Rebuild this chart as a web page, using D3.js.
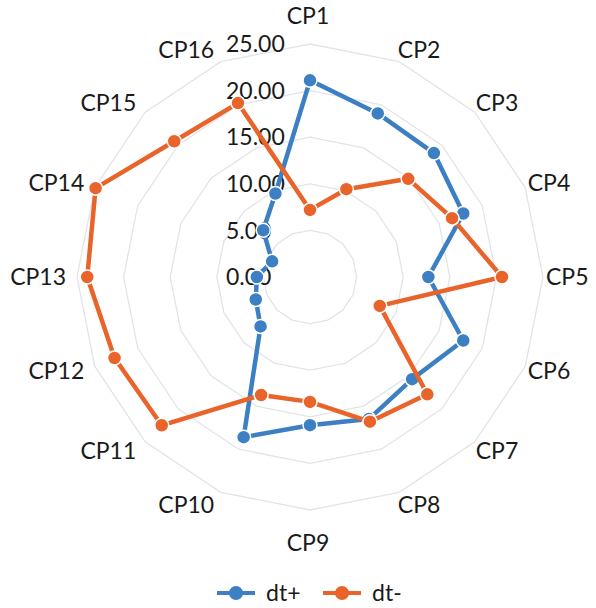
<!DOCTYPE html>
<html lang="en">
	<head>
		<meta charset="utf-8">
		<title>Radar chart</title>
		<script src="https://d3js.org/d3.v7.min.js"></script>
		<style type="text/css">
			body { margin: 0; background: #fff; }
			text { font-family: Lato, "Open Sans", sans-serif; fill: #1a1a1a; }
		</style>
	</head>
	<body>
<div id="chart"></div>
		<script type="text/javascript">
// data
var categories = ["CP1","CP2","CP3","CP4","CP5","CP6","CP7","CP8","CP9","CP10","CP11","CP12","CP13","CP14","CP15","CP16"];
var dtPlus  = [21.1, 19.0, 18.8, 17.8, 12.7, 17.8, 15.5, 16.5, 15.9, 18.6, 7.5, 6.3, 5.7, 4.4, 7.1, 9.7];
var dtMinus = [7.2, 10.2, 14.9, 16.5, 20.6, 8.1, 17.8, 16.8, 13.4, 13.7, 22.5, 22.7, 23.9, 24.9, 20.6, 20.2];
var ticks = [0, 5, 10, 15, 20, 25];
var seriesNames = ["dt+", "dt-"];
var colors = ["#3d7fc3", "#e9642a"];

//Width and height
var w = 596;
var h = 608;
var cx = 310, cy = 277;
var R = 233;

var rScale = d3.scaleLinear().domain([0, 25]).range([0, R]);
var angle = d3.scalePoint().domain(categories).range([0, 2 * Math.PI * (1 - 1 / categories.length)]);

var svg = d3.select("#chart").append("svg")
	.attr("width", w)
	.attr("height", h);

var g = svg.append("g").attr("transform", "translate(" + cx + "," + cy + ")");

// grid rings (polygons)
ticks.slice(1).forEach(function(t) {
	var pts = categories.map(c => [Math.sin(angle(c)) * rScale(t), -Math.cos(angle(c)) * rScale(t)]);
	g.append("path")
		.attr("d", d3.line().curve(d3.curveLinearClosed)(pts))
		.attr("fill", "none")
		.attr("stroke", "#e2e4e8")
		.attr("stroke-width", 1.3);
});

// tick labels
g.selectAll("text.tick")
	.data(ticks)
	.enter()
	.append("text")
	.attr("class", "tick")
	.attr("x", -84)
	.attr("y", d => -rScale(d))
	.attr("dy", "0.36em")
	.attr("font-size", 23)
	.text(d => d3.format(".2f")(d));

// category labels, placed outside the outer ring like excel does
g.selectAll("text.cat")
	.data(categories)
	.enter()
	.append("text")
	.attr("class", "cat")
	.attr("font-size", 23)
	.attr("text-anchor", "middle")
	.attr("dy", "0.36em")
	.text(d => d)
	.each(function(d) {
		var a = angle(d);
		var s = Math.sin(a), c = Math.cos(a);
		var tw = this.getComputedTextLength();
		var x, y;
		if (Math.abs(s) < 0.01) {
			x = -2;
			y = -c * 263.5 + 2.5;
		} else {
			x = s * 240 + Math.sign(s) * tw / 2 - 4;
			y = -c * 246;
		}
		d3.select(this).attr("x", x).attr("y", y);
	});

// series
var line = d3.lineRadial()
	.angle((d, i) => angle(categories[i]))
	.radius(d => rScale(d))
	.curve(d3.curveLinearClosed);

[dtPlus, dtMinus].forEach(function(values, si) {
	g.append("path")
		.attr("d", line(values))
		.attr("fill", "none")
		.attr("stroke", colors[si])
		.attr("stroke-width", 4.5)
		.attr("stroke-linejoin", "round");
	g.selectAll("circle.s" + si)
		.data(values)
		.enter()
		.append("circle")
		.attr("class", "s" + si)
		.attr("cx", (d, i) => Math.sin(angle(categories[i])) * rScale(d))
		.attr("cy", (d, i) => -Math.cos(angle(categories[i])) * rScale(d))
		.attr("r", 7)
		.attr("fill", colors[si])
		.attr("stroke", "#fff")
		.attr("stroke-width", 1.5);
});

// legend
var legend = svg.append("g").attr("transform", "translate(217,593)");
seriesNames.forEach(function(name, i) {
	var lg = legend.append("g").attr("transform", "translate(" + (i * 106) + ",0)");
	lg.append("line")
		.attr("x1", 0).attr("x2", 38)
		.attr("stroke", colors[i])
		.attr("stroke-width", 4);
	lg.append("circle")
		.attr("cx", 19)
		.attr("r", 7)
		.attr("fill", colors[i]);
	lg.append("text")
		.attr("x", 49)
		.attr("dy", "0.36em")
		.attr("font-size", 23)
		.text(name);
});
		</script>
	</body>
</html>
